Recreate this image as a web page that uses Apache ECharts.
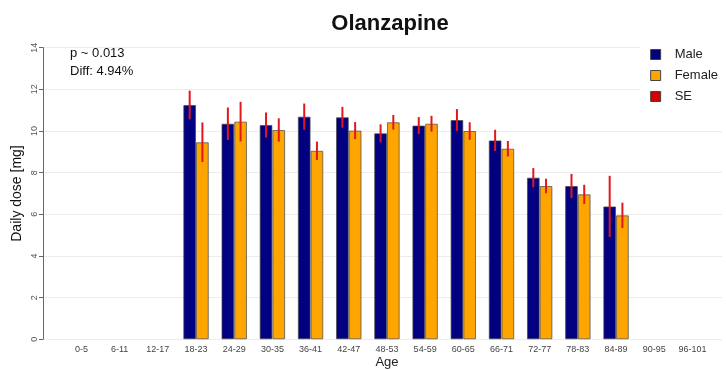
<!DOCTYPE html>
<html>
<head>
<meta charset="utf-8">
<script src="https://cdn.jsdelivr.net/npm/echarts@6/dist/echarts.min.js"></script>
<style>
  html, body { margin: 0; padding: 0; background: #fff; }
  #chart { width: 726px; height: 370px; }
</style>
</head>
<body>
<div id="chart"></div>
<script>
// Age groups and mean daily dose (mg) with standard errors
var ageGroups = ['0-5', '6-11', '12-17', '18-23', '24-29', '30-35', '36-41', '42-47', '48-53',
                 '54-59', '60-65', '66-71', '72-77', '78-83', '84-89', '90-95', '96-101'];
var maleDose   = [null, null, null, 11.25, 10.35, 10.29, 10.69, 10.66, 9.89, 10.26, 10.53, 9.55, 7.76, 7.36, 6.38, null, null];
var femaleDose = [null, null, null, 9.46, 10.45, 10.05, 9.05, 10.02, 10.42, 10.35, 10.0, 9.15, 7.36, 6.96, 5.95, null, null];
var maleSE     = [null, null, null, 0.69, 0.78, 0.60, 0.63, 0.50, 0.43, 0.41, 0.52, 0.51, 0.46, 0.58, 1.47, null, null];
var femaleSE   = [null, null, null, 0.95, 0.95, 0.56, 0.44, 0.41, 0.35, 0.38, 0.42, 0.37, 0.35, 0.46, 0.61, null, null];
var yTicks = [0, 2, 4, 6, 8, 10, 12, 14];
var pText = 'p ~ 0.013';
var diffText = 'Diff: 4.94%';

var FONT = "'Liberation Sans', Arial, sans-serif";

// error-bar rows: [category index, mean, se, side (-1 male, +1 female)]
var seRows = [];
ageGroups.forEach(function (g, i) {
  if (maleDose[i] != null) seRows.push([i, maleDose[i], maleSE[i], -1]);
  if (femaleDose[i] != null) seRows.push([i, femaleDose[i], femaleSE[i], 1]);
});

var chart = echarts.init(document.getElementById('chart'));
chart.setOption({
  animation: false,
  backgroundColor: '#fff',
  textStyle: { fontFamily: FONT },
  title: {
    text: 'Olanzapine',
    left: 385, top: 8, textAlign: 'center',
    textStyle: { fontFamily: FONT, fontSize: 22, fontWeight: 'bold', color: '#111' }
  },
  legend: {
    orient: 'vertical',
    right: 0, top: 42,
    backgroundColor: '#fff',
    padding: [6, 8, 6, 10],
    itemWidth: 10, itemHeight: 10, itemGap: 8,
    icon: 'rect',
    textStyle: { fontFamily: FONT, fontSize: 13, color: '#222', padding: [0, 0, 0, 9] },
    data: [
      { name: 'Male', itemStyle: { color: '#000080', borderColor: '#444', borderWidth: 1 } },
      { name: 'Female', itemStyle: { color: '#ffa500', borderColor: '#444', borderWidth: 1 } },
      { name: 'SE', itemStyle: { color: '#d40000', borderColor: '#444', borderWidth: 1 } }
    ]
  },
  graphic: [
    { type: 'text', left: 70, top: 47, style: { text: pText, font: '13px ' + FONT, fill: '#111' } },
    { type: 'text', left: 70, top: 65, style: { text: diffText, font: '13px ' + FONT, fill: '#111' } }
  ],
  grid: [
    { left: 43, right: 4, top: 47.7, bottom: 30.7, outerBoundsMode: 'none', containLabel: false },
    { left: 62.4, right: 14.5, top: 47.7, bottom: 30.7, outerBoundsMode: 'none', containLabel: false }
  ],
  xAxis: [
    { gridIndex: 0, type: 'value', min: 0, max: 1, show: false },
    {
      gridIndex: 1, type: 'category', data: ageGroups,
      axisLine: { show: false }, axisTick: { show: false },
      axisLabel: { fontSize: 9, color: '#444', margin: 6, interval: 0, fontFamily: FONT },
      name: 'Age', nameLocation: 'middle', nameGap: 17, nameMoveOverlap: false,
      nameTextStyle: { fontSize: 13, color: '#222', fontFamily: FONT }
    }
  ],
  yAxis: [
    {
      gridIndex: 0, type: 'value', min: 0, max: 14, interval: 2,
      axisLine: { show: true, lineStyle: { color: '#666', width: 1 } },
      axisTick: { show: true, length: 4, lineStyle: { color: '#666' } },
      axisLabel: {
        rotate: 90, fontSize: 9, color: '#555', margin: 4, fontFamily: FONT,
        formatter: function (v) { return yTicks.indexOf(v) >= 0 ? String(v) : ''; }
      },
      splitLine: { show: true, lineStyle: { color: '#ececec', width: 1 } },
      name: 'Daily dose [mg]', nameLocation: 'middle', nameGap: 19, nameMoveOverlap: false,
      nameTextStyle: { fontSize: 14, color: '#111', fontFamily: FONT }
    },
    { gridIndex: 1, type: 'value', min: 0, max: 14, interval: 2, show: false, splitLine: { show: false } }
  ],
  series: [
    {
      name: 'Male', type: 'bar', xAxisIndex: 1, yAxisIndex: 1,
      data: maleDose, barWidth: '33.33%', barGap: '0%',
      itemStyle: { color: '#000080', borderColor: 'rgba(70,70,70,0.7)', borderWidth: 1 }
    },
    {
      name: 'Female', type: 'bar', xAxisIndex: 1, yAxisIndex: 1,
      data: femaleDose, barWidth: '33.33%', barGap: '0%',
      itemStyle: { color: '#ffa500', borderColor: 'rgba(70,70,70,0.7)', borderWidth: 1 }
    },
    {
      name: 'SE', type: 'custom', xAxisIndex: 1, yAxisIndex: 1, z: 5,
      itemStyle: { color: '#d40000' },
      encode: { x: 0, y: 1 },
      data: seRows,
      renderItem: function (params, api) {
        var idx = api.value(0), v = api.value(1), se = api.value(2), side = api.value(3);
        var band = api.size([1, 0])[0];
        var top = api.coord([idx, v + se]);
        var bot = api.coord([idx, v - se]);
        var x = top[0] + side * band / 6;
        return {
          type: 'line',
          shape: { x1: x, y1: top[1], x2: x, y2: bot[1] },
          style: { stroke: '#e3161e', lineWidth: 2 }
        };
      }
    }
  ]
});
</script>
</body>
</html>
